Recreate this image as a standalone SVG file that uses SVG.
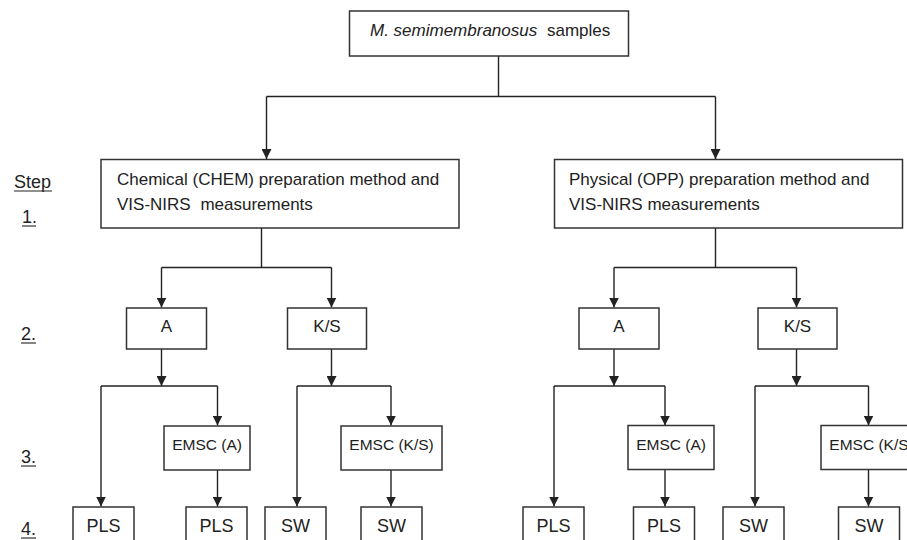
<svg xmlns="http://www.w3.org/2000/svg" width="907" height="540" viewBox="0 0 907 540">
<style>
text{font-family:"Liberation Sans",Arial,sans-serif;fill:#222}
.box{fill:#fff;stroke:#333;stroke-width:1.5}
.t17{font-size:17px}
.t15{font-size:15.5px}
.t18{font-size:18px}
.c{text-anchor:middle}
.ln{fill:none;stroke:#222;stroke-width:1.4}
.ul{stroke:#222;stroke-width:1.1}
</style>
<defs>
<marker id="ah" markerUnits="userSpaceOnUse" markerWidth="10" markerHeight="10" viewBox="0 0 10 10" refX="10" refY="5" orient="auto">
<path d="M0,0 L10,5 L0,10 z" fill="#222"/>
</marker>
</defs>
<rect width="907" height="540" fill="#fff"/>

<g id="steps">
<text class="t18" x="14" y="188">Step</text><line class="ul" x1="14" y1="191" x2="52" y2="191"/>
<text class="t18" x="22" y="223">1.</text><line class="ul" x1="22" y1="226" x2="36" y2="226"/>
<text class="t18" x="21" y="340">2.</text><line class="ul" x1="21" y1="343" x2="36" y2="343"/>
<text class="t18" x="21" y="463">3.</text><line class="ul" x1="21" y1="466" x2="36" y2="466"/>
<text class="t18" x="21" y="535">4.</text><line class="ul" x1="21" y1="538" x2="36" y2="538"/>
</g>

<g id="connectors">
<path class="ln" d="M498.5,56 V96.5 M266.5,96.5 H715.5"/>
<path class="ln" d="M266.5,96.5 V159" marker-end="url(#ah)"/>
<path class="ln" d="M715.5,96.5 V159" marker-end="url(#ah)"/>
<!-- left branch -->
<path class="ln" d="M261.5,228 V267.5 M161.5,267.5 H331.5"/>
<path class="ln" d="M161.5,267.5 V307.5" marker-end="url(#ah)"/>
<path class="ln" d="M331.5,267.5 V307.5" marker-end="url(#ah)"/>
<path class="ln" d="M161.5,349 V386" marker-end="url(#ah)"/>
<path class="ln" d="M101,386 H217.5"/>
<path class="ln" d="M101,386 V506.5" marker-end="url(#ah)"/>
<path class="ln" d="M217.5,386 V425.5" marker-end="url(#ah)"/>
<path class="ln" d="M217.5,470 V506.5" marker-end="url(#ah)"/>
<path class="ln" d="M331.5,349 V386" marker-end="url(#ah)"/>
<path class="ln" d="M297,386 H391"/>
<path class="ln" d="M297,386 V506.5" marker-end="url(#ah)"/>
<path class="ln" d="M391,386 V425.5" marker-end="url(#ah)"/>
<path class="ln" d="M391,470 V506.5" marker-end="url(#ah)"/>
<!-- right branch -->
<path class="ln" d="M715.5,228 V267.5 M614,267.5 H796.5"/>
<path class="ln" d="M614,267.5 V307.5" marker-end="url(#ah)"/>
<path class="ln" d="M796.5,267.5 V307.5" marker-end="url(#ah)"/>
<path class="ln" d="M614,349 V386" marker-end="url(#ah)"/>
<path class="ln" d="M554,386 H665"/>
<path class="ln" d="M554,386 V506.5" marker-end="url(#ah)"/>
<path class="ln" d="M665,386 V425.5" marker-end="url(#ah)"/>
<path class="ln" d="M665,469.5 V506.5" marker-end="url(#ah)"/>
<path class="ln" d="M796.5,349 V386" marker-end="url(#ah)"/>
<path class="ln" d="M755,386 H868.5"/>
<path class="ln" d="M755,386 V506.5" marker-end="url(#ah)"/>
<path class="ln" d="M868.5,386 V425.5" marker-end="url(#ah)"/>
<path class="ln" d="M868.5,469.5 V506.5" marker-end="url(#ah)"/>
</g>

<g id="samples">
<rect class="box" x="349.5" y="11" width="279" height="45"/>
<text class="t17" x="370" y="36"><tspan font-style="italic">M. semimembranosus</tspan><tspan dx="5"> samples</tspan></text>
</g>

<g id="chem">
<rect class="box" x="101" y="159.5" width="358" height="68.5"/>
<text class="t17" x="117" y="185">Chemical (CHEM) preparation method and</text>
<text class="t17" x="117" y="210">VIS-NIRS<tspan dx="5"> measurements</tspan></text>
</g>
<g id="phys">
<rect class="box" x="554.5" y="159.5" width="348" height="68.5"/>
<text class="t17" x="569" y="185">Physical (OPP) preparation method and</text>
<text class="t17" x="569" y="210">VIS-NIRS measurements</text>
</g>

<g id="chem-a"><rect class="box" x="126.5" y="308" width="80" height="41"/><text class="t17 c" x="166.5" y="332">A</text></g>
<g id="chem-ks"><rect class="box" x="287.5" y="308" width="79" height="41"/><text class="t17 c" x="327" y="332">K/S</text></g>
<g id="phys-a"><rect class="box" x="579" y="308" width="80" height="41"/><text class="t17 c" x="619" y="332">A</text></g>
<g id="phys-ks"><rect class="box" x="758" y="308" width="79" height="41"/><text class="t17 c" x="797.5" y="332">K/S</text></g>

<g id="chem-emsc-a"><rect class="box" x="164" y="426" width="86" height="44"/><text class="t15 c" x="207" y="450">EMSC (A)</text></g>
<g id="chem-emsc-ks"><rect class="box" x="341" y="426" width="101" height="44"/><text class="t15 c" x="391.5" y="450">EMSC (K/S)</text></g>
<g id="phys-emsc-a"><rect class="box" x="628" y="425.5" width="86" height="44"/><text class="t15 c" x="671" y="449.5">EMSC (A)</text></g>
<g id="phys-emsc-ks"><rect class="box" x="821" y="425.5" width="101" height="44"/><text class="t15 c" x="871.5" y="449.5">EMSC (K/S)</text></g>

<g id="pls1"><rect class="box" x="73" y="507" width="61" height="45"/><text class="t18 c" x="103.5" y="532">PLS</text></g>
<g id="pls2"><rect class="box" x="186" y="507" width="61" height="45"/><text class="t18 c" x="216.5" y="532">PLS</text></g>
<g id="sw1"><rect class="box" x="265" y="507" width="61" height="45"/><text class="t18 c" x="295.5" y="532">SW</text></g>
<g id="sw2"><rect class="box" x="361" y="507" width="61" height="45"/><text class="t18 c" x="391.5" y="532">SW</text></g>
<g id="pls3"><rect class="box" x="523" y="507" width="61" height="45"/><text class="t18 c" x="553.5" y="532">PLS</text></g>
<g id="pls4"><rect class="box" x="633.5" y="507" width="61" height="45"/><text class="t18 c" x="664" y="532">PLS</text></g>
<g id="sw3"><rect class="box" x="723" y="507" width="61" height="45"/><text class="t18 c" x="753.5" y="532">SW</text></g>
<g id="sw4"><rect class="box" x="838.5" y="507" width="61" height="45"/><text class="t18 c" x="869" y="532">SW</text></g>
</svg>
